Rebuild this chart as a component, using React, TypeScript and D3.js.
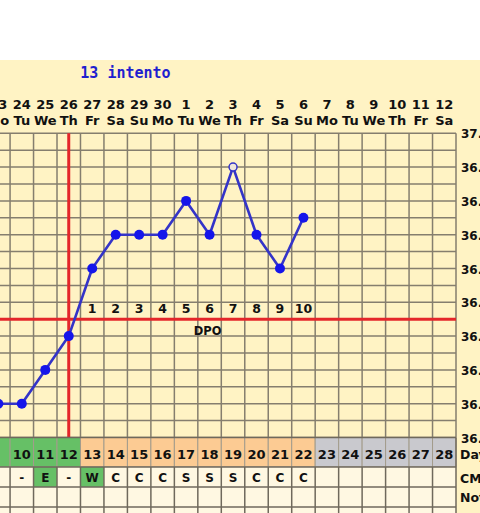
import React from "react";
import * as d3 from "d3";

// ---------- data ----------
const title = "13 intento";
const cycleDays = [9, 10, 11, 12, 13, 14, 15, 16, 17, 18, 19, 20, 21, 22, 23, 24, 25, 26, 27, 28];
const dates = ["23", "24", "25", "26", "27", "28", "29", "30", "1", "2", "3", "4", "5", "6", "7", "8", "9", "10", "11", "12"];
const weekdays = ["Mo", "Tu", "We", "Th", "Fr", "Sa", "Su", "Mo", "Tu", "We", "Th", "Fr", "Sa", "Su", "Mo", "Tu", "We", "Th", "Fr", "Sa"];
const tempDays = [9, 10, 11, 12, 13, 14, 15, 16, 17, 18, 19, 20, 21, 22];
const temps = [36.2, 36.2, 36.3, 36.4, 36.6, 36.7, 36.7, 36.7, 36.8, 36.7, 36.9, 36.7, 36.6, 36.75];
const questionableDays = [19];
const cmValues = ["", "-", "E", "-", "W", "C", "C", "C", "S", "S", "S", "C", "C", "C", "", "", "", "", "", ""];
const fertileCm = ["E", "W"];
const tempTicks = ["37.0", "36.9", "36.8", "36.7", "36.6", "36.5", "36.4", "36.3", "36.2", "36.1"];
const ovulationDay = 12;
const coverline = 36.45;
const dpoLabels = ["1", "2", "3", "4", "5", "6", "7", "8", "9", "10"];
const rowLabels = ["Day", "CM", "Notes"];

// ---------- layout ----------
const W = 480;
const H = 513;
const gridRight = 456;
const colW = 23.47;
const gridTop = 133.3;
const gridBottom = 437.5;
const FONT = "'DejaVu Sans', Verdana, sans-serif";
const MONO = "'DejaVu Sans Mono', monospace";
const CREAM = "#fff3c4";
const CELL = "#fff8e2";
const GRID = "#857e6e";
const GREEN = "#66c066";
const ORANGE = "#fccb93";
const GRAY = "#c9c9ce";
const RED = "#e4262a";
const BLUE = "#3434c8";
const DOT = "#1515ea";

export default function App() {
  const firstDay = cycleDays[0];
  const lastDay = cycleDays[cycleDays.length - 1];
  const x = d3
    .scaleLinear()
    .domain([firstDay, lastDay + 1])
    .range([gridRight - colW * cycleDays.length, gridRight]);
  const yMin = +tempTicks[tempTicks.length - 1];
  const yMax = +tempTicks[0];
  const y = d3.scaleLinear().domain([yMin, yMax]).range([gridBottom, gridTop]);
  const cx = (d: number) => x(d + 0.5);

  const hGrid = d3.range(0, Math.round((yMax - yMin) / 0.05) + 1).map((i) => yMin + i * 0.05);
  const vGrid = [...cycleDays, lastDay + 1];

  const pts = tempDays.map((d, i) => ({ d, t: temps[i] }));
  const line = d3
    .line<{ d: number; t: number }>()
    .x((p) => cx(p.d))
    .y((p) => y(p.t));

  const lastTempDay = tempDays[tempDays.length - 1];
  const phaseColor = (d: number) => (d <= ovulationDay ? GREEN : d <= lastTempDay ? ORANGE : GRAY);

  const rowDayTop = gridBottom;
  const rowCmTop = 467;
  const rowNotesTop = 487;
  const rowNextTop = 507;
  const rowNextBottom = 530;
  const leftEdge = x(firstDay);

  const covY = y(coverline);
  const left0 = Math.max(0, leftEdge);

  return (
    <svg
      width={W}
      height={H}
      style={{ position: "absolute", left: 0, top: 0, display: "block" }}
      xmlns="http://www.w3.org/2000/svg"
    >
      <rect x={0} y={0} width={W} height={H} fill="#ffffff" />
      <rect x={0} y={60} width={W} height={H - 60} fill={CREAM} />

      {/* title */}
      <text x={125.5} y={78} textAnchor="middle" fontFamily={MONO} fontWeight="bold" fontSize={15} fill="#1f1fcf">
        {title}
      </text>

      {/* date + weekday header */}
      {cycleDays.map((d, i) => (
        <g key={"h" + d}>
          <text x={cx(d)} y={109} textAnchor="middle" fontFamily={FONT} fontWeight="bold" fontSize={13} fill="#111">
            {dates[i]}
          </text>
          <text x={cx(d)} y={125} textAnchor="middle" fontFamily={FONT} fontWeight="bold" fontSize={13} fill="#111">
            {weekdays[i]}
          </text>
        </g>
      ))}

      {/* grid */}
      {hGrid.map((t, i) => (
        <line key={"hg" + i} x1={left0} x2={gridRight} y1={y(t)} y2={y(t)} stroke={GRID} strokeWidth={1.5} />
      ))}
      {vGrid.map((d) => (
        <line key={"vg" + d} x1={x(d)} x2={x(d)} y1={gridTop} y2={gridBottom} stroke={GRID} strokeWidth={1.5} />
      ))}

      {/* right axis labels */}
      {tempTicks.map((t) => (
        <text key={"yt" + t} x={461} y={y(+t) + 5} fontFamily={FONT} fontWeight="bold" fontSize={12} fill="#111">
          {t}
        </text>
      ))}

      {/* ovulation & coverline */}
      <line x1={cx(ovulationDay)} x2={cx(ovulationDay)} y1={gridTop} y2={gridBottom} stroke={RED} strokeWidth={3} />
      <line x1={left0} x2={gridRight} y1={covY} y2={covY} stroke={RED} strokeWidth={3} />

      {/* DPO */}
      {dpoLabels.map((l, i) => (
        <text
          key={"dpo" + l}
          x={cx(ovulationDay + 1 + i)}
          y={covY - 6}
          textAnchor="middle"
          fontFamily={FONT}
          fontWeight="bold"
          fontSize={12.5}
          fill="#111"
        >
          {l}
        </text>
      ))}
      <text x={cx(ovulationDay + 6) - 2} y={covY + 16} textAnchor="middle" fontFamily={FONT} fontWeight="bold" fontSize={11.5} fill="#111">
        DPO
      </text>

      {/* temperature line */}
      <path d={line(pts) || ""} fill="none" stroke={BLUE} strokeWidth={2.6} strokeLinejoin="round" />
      {pts.map((p) =>
        questionableDays.includes(p.d) ? (
          <circle key={"p" + p.d} cx={cx(p.d)} cy={y(p.t)} r={4} fill="#efe6dc" stroke={BLUE} strokeWidth={1.5} />
        ) : (
          <circle key={"p" + p.d} cx={cx(p.d)} cy={y(p.t)} r={5} fill={DOT} />
        )
      )}

      {/* cycle day row */}
      {cycleDays.map((d) => (
        <g key={"cd" + d}>
          <rect x={x(d)} y={rowDayTop} width={colW} height={rowCmTop - rowDayTop} fill={phaseColor(d)} stroke="#a39c8c" strokeWidth={1} />
          {cx(d) > 8 && (
            <text x={cx(d)} y={458.5} textAnchor="middle" fontFamily={FONT} fontWeight="bold" fontSize={13} fill="#111">
              {d}
            </text>
          )}
        </g>
      ))}

      {/* CM row */}
      {cycleDays.map((d, i) => (
        <g key={"cm" + d}>
          <rect
            x={x(d)}
            y={rowCmTop}
            width={colW}
            height={rowNotesTop - rowCmTop}
            fill={fertileCm.includes(cmValues[i]) ? GREEN : CELL}
          />
          <text x={cx(d)} y={482} textAnchor="middle" fontFamily={FONT} fontWeight="bold" fontSize={12} fill="#111">
            {cmValues[i]}
          </text>
        </g>
      ))}

      {/* Notes + next row */}
      <rect x={left0} y={rowNotesTop} width={gridRight - left0} height={rowNextTop - rowNotesTop} fill={CELL} />
      <rect x={left0} y={rowNextTop} width={gridRight - left0} height={rowNextBottom - rowNextTop} fill={CELL} />

      {/* bottom rows borders */}
      {[rowDayTop, rowCmTop, rowNotesTop, rowNextTop].map((yy) => (
        <line key={"rb" + yy} x1={left0} x2={gridRight} y1={yy} y2={yy} stroke="#6f695c" strokeWidth={1.5} />
      ))}
      {vGrid.map((d) => (
        <line key={"rv" + d} x1={x(d)} x2={x(d)} y1={rowCmTop} y2={rowNextBottom} stroke="#6f695c" strokeWidth={1.5} />
      ))}
      <line x1={gridRight} x2={gridRight} y1={rowDayTop} y2={rowCmTop} stroke="#6f695c" strokeWidth={1.5} />

      {/* row labels */}
      {rowLabels.map((l, i) => (
        <text key={"rl" + l} x={460} y={[458.5, 483, 502][i]} fontFamily={FONT} fontWeight="bold" fontSize={12.5} fill="#111">
          {l}
        </text>
      ))}
    </svg>
  );
}
